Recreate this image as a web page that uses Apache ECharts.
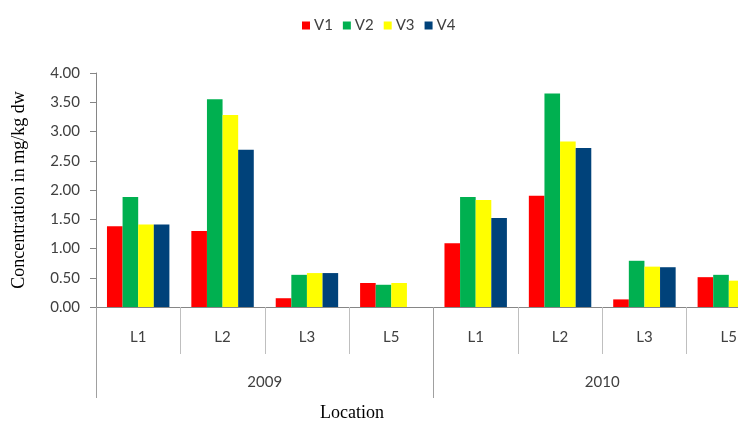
<!DOCTYPE html>
<html>
<head>
<meta charset="utf-8">
<script src="https://cdn.jsdelivr.net/npm/echarts@6/dist/echarts.min.js"></script>
<style>
  html, body { margin: 0; padding: 0; background: #fff; overflow: hidden; }
  /* the plot runs past the right edge in the reference, so the canvas is wider than the window */
  #chart { width: 790px; height: 421px; }
</style>
</head>
<body>
<div id="chart"></div>
<script>
// data
var locations = ["L1", "L2", "L3", "L5", "L1", "L2", "L3", "L5"];
var years = ["2009", "2010"];
var seriesNames = ["V1", "V2", "V3", "V4"];
var v1 = [1.38, 1.30, 0.15, 0.41, 1.09, 1.90, 0.13, 0.51];
var v2 = [1.88, 3.55, 0.55, 0.38, 1.88, 3.65, 0.79, 0.55];
var v3 = [1.41, 3.28, 0.58, 0.41, 1.83, 2.83, 0.69, 0.45];
var v4 = [1.41, 2.69, 0.58, null, 1.52, 2.72, 0.68, 0.45];
var yTicks = [0, 0.5, 1, 1.5, 2, 2.5, 3, 3.5, 4];

var colors = ["#FF0000", "#00B050", "#FFFF00", "#00427A"];
var values = [v1, v2, v3, v4];
var labelFont = "Lato";

var chart = echarts.init(document.getElementById("chart"));

var series = seriesNames.map(function (name, i) {
  return {
    name: name,
    type: "bar",
    xAxisIndex: 0,
    data: values[i],
    barGap: "0%",
    barCategoryGap: "26%",
    itemStyle: { color: colors[i] },
    emphasis: { disabled: true }
  };
});

chart.setOption({
  animation: false,
  color: colors,
  legend: {
    data: seriesNames,
    left: 297,
    top: 13,
    icon: "rect",
    itemWidth: 8,
    itemHeight: 8,
    itemGap: 10,
    textStyle: { fontFamily: labelFont, fontSize: 15, color: "#404040", padding: [0, 0, 0, -1] }
  },
  grid: { left: 96, top: 73, width: 675, height: 234 },
  xAxis: [
    {
      type: "category",
      data: locations,
      position: "bottom",
      axisLine: { show: true, lineStyle: { color: "#868686", width: 1 } },
      axisTick: { show: true, interval: 0, length: 47, lineStyle: { color: "#BFBFBF" } },
      axisLabel: { interval: 0, margin: 23, fontFamily: labelFont, fontSize: 15, color: "#404040" }
    },
    {
      type: "category",
      data: years,
      position: "bottom",
      offset: 0,
      axisLine: { show: false },
      axisTick: { show: true, interval: 0, length: 91, lineStyle: { color: "#A0A0A0" } },
      axisLabel: { interval: 0, margin: 68, fontFamily: labelFont, fontSize: 15, color: "#404040" }
    }
  ],
  yAxis: {
    type: "value",
    min: yTicks[0],
    max: yTicks[yTicks.length - 1],
    interval: 0.5,
    name: "Concentration in mg/kg dw",
    nameLocation: "middle",
    nameGap: 68,
    nameTextStyle: { fontFamily: "Liberation Serif", fontSize: 18, color: "#000" },
    axisLine: { show: true, lineStyle: { color: "#868686" } },
    axisTick: { show: true, length: 6, lineStyle: { color: "#868686" } },
    splitLine: { show: false },
    axisLabel: {
      margin: 16,
      fontFamily: labelFont,
      fontSize: 15,
      color: "#404040",
      formatter: function (v) { return v.toFixed(2); }
    }
  },
  graphic: [
    {
      type: "text",
      x: 352,
      y: 413,
      style: {
        text: "Location",
        font: "18px 'Liberation Serif'",
        fill: "#000",
        textAlign: "center",
        textVerticalAlign: "middle"
      }
    }
  ],
  series: series
});
</script>
</body>
</html>
